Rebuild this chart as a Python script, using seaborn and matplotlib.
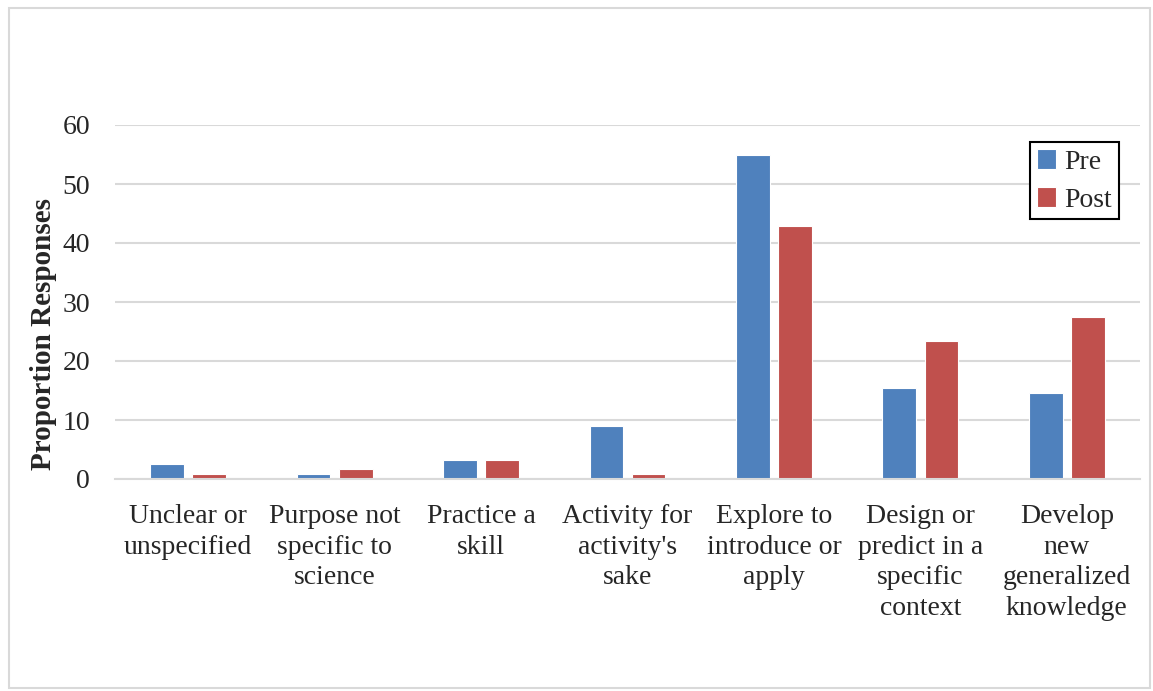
import pandas as pd
import numpy as np
import matplotlib
matplotlib.use("Agg")
import matplotlib.pyplot as plt
import seaborn as sns
from matplotlib.patches import Rectangle

categories = ["Unclear or\nunspecified", "Purpose not\nspecific to\nscience",
              "Practice a\nskill", "Activity for\nactivity's\nsake",
              "Explore to\nintroduce or\napply", "Design or\npredict in a\nspecific\ncontext",
              "Develop\nnew\ngeneralized\nknowledge"]
pre = [2.5, 0.85, 3.3, 8.9, 54.9, 15.4, 14.6]
post = [0.85, 1.7, 3.3, 0.85, 42.8, 23.4, 27.5]
yticks = [0, 10, 20, 30, 40, 50, 60]

df = pd.DataFrame({
    "Category": categories * 2,
    "Value": pre + post,
    "Series": ["Pre"] * len(pre) + ["Post"] * len(post),
})

sns.set_style("white")
plt.rcParams['font.family'] = ['Liberation Serif', 'DejaVu Serif']

fig = plt.figure(figsize=(11.53, 6.91), dpi=100)
ax = fig.add_axes([115 / 1153, 1 - 479 / 691, 1025 / 1153, 354 / 691])

sns.barplot(data=df, x="Category", y="Value", hue="Series",
            palette=["#4F81BD", "#C0504D"], saturation=1, width=0.575, gap=0.2,
            edgecolor="white", linewidth=0.8, ax=ax)

ax.set_ylim(0, 60)
ax.set_yticks(yticks)
ax.set_xlim(-0.5, 6.5)
ax.yaxis.grid(True, color="#D9D9D9", linewidth=1.5)
ax.set_axisbelow(True)
for s in ["top", "right", "left"]:
    ax.spines[s].set_visible(False)
ax.spines["bottom"].set_color("#D9D9D9")
ax.spines["bottom"].set_linewidth(1.5)
ax.tick_params(axis="y", length=0, pad=18, labelsize=20)
ax.tick_params(axis="x", length=0, pad=18, labelsize=20)
for lab in ax.get_xticklabels():
    lab.set_linespacing(1.3)
    lab.set_verticalalignment("top")
ax.set_xlabel("")
ax.set_ylabel("Proportion Responses", fontsize=21, fontweight="bold")
ax.yaxis.set_label_coords(-0.057, 0.41)

leg = ax.legend(loc="upper right", bbox_to_anchor=(0.9875, 0.975), fontsize=20,
                frameon=True, fancybox=False, handlelength=0.7, handleheight=0.7,
                handletextpad=0.3, borderpad=0.25, labelspacing=0.45,
                borderaxespad=0.3)
leg.get_frame().set_edgecolor("black")
leg.get_frame().set_linewidth(1.5)
leg.get_frame().set_alpha(1)

fig.patches.append(Rectangle((9 / 1153, 3 / 691), 1141 / 1153, 680 / 691,
                             transform=fig.transFigure, fill=False,
                             edgecolor="#D9D9D9", linewidth=1.5))

fig.savefig("out.png", dpi=100)
